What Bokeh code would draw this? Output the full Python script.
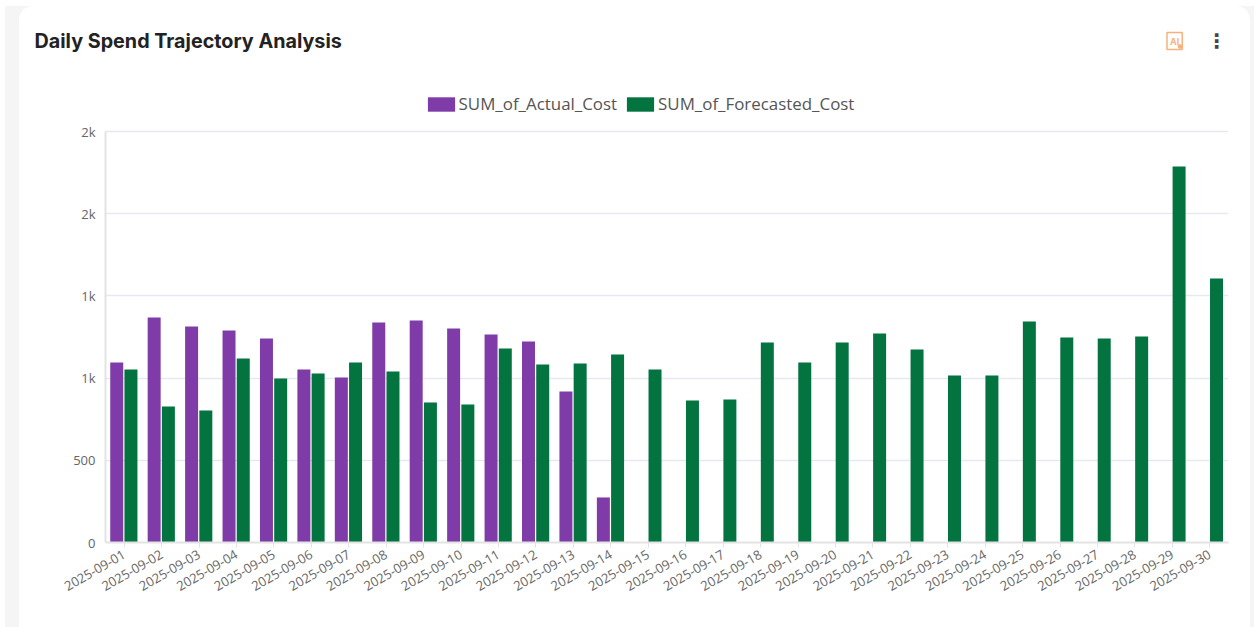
from bokeh.plotting import figure
from bokeh.models import (ColumnDataSource, FactorRange, Legend, LegendItem, Title, Label,
                          FixedTicker, Range1d)
from bokeh.transform import dodge
from bokeh.embed import file_html
from bokeh.resources import INLINE
from math import pi

dates = [f"2025-09-{d:02d}" for d in range(1, 31)]
actual_cost = [1095, 1369, 1314, 1290, 1241, 1052, 1004, 1338, 1350, 1302, 1265, 1223, 918, 274] + [None] * 16
forecast_cost = [1052, 827, 803, 1119, 998, 1028, 1095, 1040, 852, 839, 1180, 1083, 1089, 1144, 1052,
                 864, 870, 1217, 1095, 1217, 1271, 1174, 1016, 1016, 1344, 1247, 1241, 1253, 2287, 1606]
y_ticks = [0, 500, 1000, 1500, 2000, 2500]
y_labels = {0: "0", 500: "500", 1000: "1k", 1500: "1k", 2000: "2k", 2500: "2k"}
y_axis_top = 2500

PURPLE = "#7f3ca8"
GREEN = "#037340"
GREY = "#f5f5f5"
W, H = 1254, 627
FL, FR, FT, FB = 105, 1228, 28, 542
PX_PER_UNIT = (542 - 131) / y_axis_top

src = ColumnDataSource(dict(date=dates, actual=actual_cost, forecast=forecast_cost))

p = figure(width=W, height=H, x_range=FactorRange(factors=dates, range_padding=0),
           y_range=Range1d(0, (FB - FT) / PX_PER_UNIT), output_backend="svg", toolbar_location=None,
           min_border_left=FL, min_border_right=W - FR,
           min_border_top=FT, min_border_bottom=H - FB)
p.border_fill_alpha = 0
p.background_fill_alpha = 0
p.outline_line_color = None
p.styles = {
    "background-color": "#ffffff",
    "background-image": (
        f"radial-gradient(circle at 14px 14px, #fff 13.5px, {GREY} 14.5px),"
        f"radial-gradient(circle at 0px 14px, #fff 13.5px, {GREY} 14.5px),"
        f"linear-gradient({GREY},{GREY}),linear-gradient({GREY},{GREY})"
    ),
    "background-size": "14px 14px,14px 14px,14px 621px,4px 621px",
    "background-position": "19px 6px,1236px 6px,5px 6px,1250px 6px",
    "background-repeat": "no-repeat",
}

bar_w = 0.347
r1 = p.vbar(x=dodge("date", -0.2, range=p.x_range), top="actual", width=bar_w, source=src,
            fill_color=PURPLE, line_color=None)
r2 = p.vbar(x=dodge("date", 0.18, range=p.x_range), top="forecast", width=bar_w, source=src,
            fill_color=GREEN, line_color=None)

p.xgrid.grid_line_color = None
p.ygrid.grid_line_color = "#e6e9ef"
p.ygrid.grid_line_width = 1.5

p.yaxis.ticker = FixedTicker(ticks=y_ticks)
p.yaxis.major_label_overrides = y_labels
p.yaxis.bounds = (0, y_axis_top)
p.yaxis.major_tick_line_color = None
p.yaxis.minor_tick_line_color = None
p.yaxis.axis_line_color = "#e3e3e3"
p.yaxis.axis_line_width = 2
p.yaxis.major_label_text_color = "#666666"
p.yaxis.major_label_text_font = "Open Sans"
p.yaxis.major_label_text_font_size = "13px"
p.yaxis.major_label_standoff = 4

p.xaxis.major_label_orientation = pi / 6
p.xaxis.major_label_text_color = "#666666"
p.xaxis.major_label_text_font = "Open Sans"
p.xaxis.major_label_text_font_size = "13px"
p.xaxis.major_label_standoff = 6
p.xaxis.axis_line_color = "#e3e3e3"
p.xaxis.axis_line_width = 2
p.xaxis.major_tick_line_color = "#e3e3e3"
p.xaxis.major_tick_in = 0
p.xaxis.major_tick_out = 5
p.xaxis.minor_tick_line_color = None

legend = Legend(items=[LegendItem(label="SUM_of_Actual_Cost", renderers=[r1]),
                       LegendItem(label="SUM_of_Forecasted_Cost", renderers=[r2])],
                orientation="horizontal", location=(423.6 - FL, FB - 115),
                background_fill_alpha=0, border_line_color=None,
                label_text_font="Open Sans", label_text_font_size="16.9px",
                label_text_color="#555555", glyph_width=34, glyph_height=18,
                label_standoff=1, spacing=6, padding=0, margin=0)
p.add_layout(legend, "center")

ORANGE = "#f6b27c"
p.add_layout(Title(text="Daily Spend Trajectory Analysis", text_font="Inter", text_font_style="bold",
                   text_font_size="19.75px", text_color="#222222", align="left", offset=34 - FL,
                   standoff=-48), "above")


def label(px, py, text, **kw):
    p.add_layout(Label(x=px - FL, y=FB - py, x_units="screen", y_units="screen", text=text,
                       text_baseline="middle", **kw))


label(1166.5, 40.5, "AI", text_font="Inter", text_font_style="bold", text_font_size="9px",
      text_color=ORANGE, border_line_color=ORANGE, border_line_width=1.5, padding=3)
label(1177, 44.5, "●", text_font="DejaVu Sans", text_font_size="6px", text_color=ORANGE)
label(1206, 40, "⋮", text_font="DejaVu Sans", text_font_style="bold", text_font_size="20px",
      text_color="#444444")

open("out.html", "w").write(file_html(p, INLINE))
